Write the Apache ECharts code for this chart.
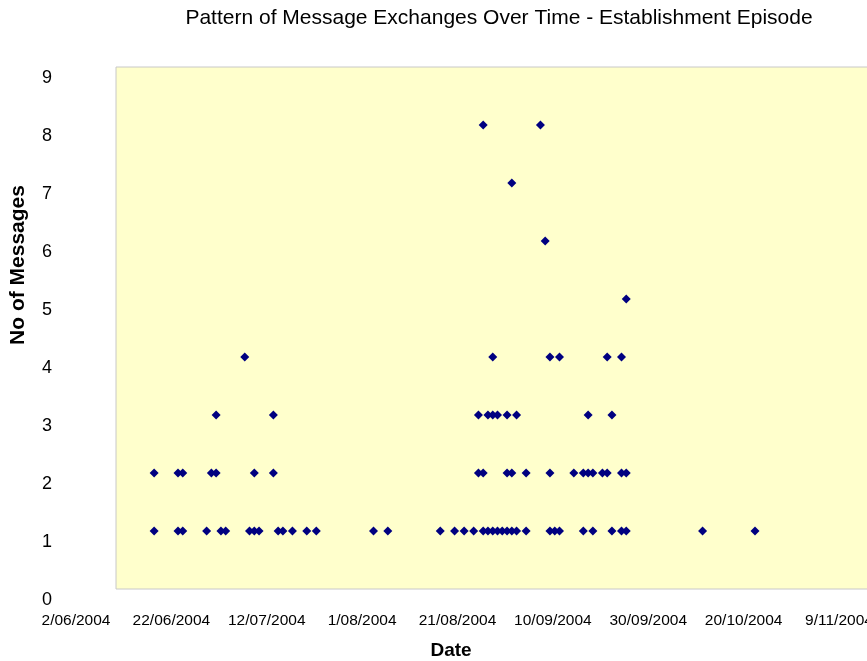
<!DOCTYPE html>
<html><head><meta charset="utf-8">
<script src="https://cdn.jsdelivr.net/npm/echarts@6/dist/echarts.min.js"></script>
<style>html,body{margin:0;padding:0;background:#fff}#c{width:867px;height:661px}</style>
</head><body><div id="c"></div>
<script>
const chartTitle = 'Pattern of Message Exchanges Over Time - Establishment Episode';
const xTitle = 'Date';
const yTitle = 'No of Messages';
const axisStart = '2004-06-02';
const axisEnd = '2004-11-09';
const tickStepDays = 20;
const yMax = 9;

const dates = [
  '2004-06-10','2004-06-15','2004-06-16','2004-06-21','2004-06-24','2004-06-25','2004-06-30','2004-07-01','2004-07-02','2004-07-06',
  '2004-07-07','2004-07-09','2004-07-12','2004-07-14','2004-07-26','2004-07-29','2004-08-09','2004-08-12','2004-08-14','2004-08-16',
  '2004-08-18','2004-08-19','2004-08-20','2004-08-21','2004-08-22','2004-08-23','2004-08-24','2004-08-25','2004-08-27','2004-09-01',
  '2004-09-02','2004-09-03','2004-09-08','2004-09-10','2004-09-14','2004-09-16','2004-09-17','2004-10-03','2004-10-14',
  '2004-06-10','2004-06-15','2004-06-16','2004-06-22','2004-06-23','2004-07-01','2004-07-05','2004-08-17','2004-08-18','2004-08-23',
  '2004-08-24','2004-08-27','2004-09-01','2004-09-06','2004-09-08','2004-09-09','2004-09-10','2004-09-12','2004-09-13','2004-09-16','2004-09-17',
  '2004-06-23','2004-07-05','2004-08-17','2004-08-19','2004-08-20','2004-08-21','2004-08-23','2004-08-25','2004-09-09','2004-09-14',
  '2004-06-29','2004-08-20','2004-09-01','2004-09-03','2004-09-13','2004-09-16',
  '2004-09-17',
  '2004-08-31',
  '2004-08-24',
  '2004-08-18','2004-08-30'
];
const messages = [
  1,1,1,1,1,1,1,1,1,1,
  1,1,1,1,1,1,1,1,1,1,
  1,1,1,1,1,1,1,1,1,1,
  1,1,1,1,1,1,1,1,1,
  2,2,2,2,2,2,2,2,2,2,
  2,2,2,2,2,2,2,2,2,2,2,
  3,3,3,3,3,3,3,3,3,3,
  4,4,4,4,4,4,
  5,
  6,
  7,
  8,8
];

const DAY = 86400000;
const t0 = Date.parse(axisStart + 'T00:00:00Z');
const dayOf = s => Math.round((Date.parse(s + 'T00:00:00Z') - t0) / DAY);
const fmt = d => { const dt = new Date(t0 + d * DAY); return dt.getUTCDate() + '/' + String(dt.getUTCMonth() + 1).padStart(2, '0') + '/' + dt.getUTCFullYear(); };
const points = dates.map((s, i) => [dayOf(s), messages[i]]);

const chart = echarts.init(document.getElementById('c'), null, {renderer: 'canvas'});
chart.setOption({
  animation: false,
  backgroundColor: '#ffffff',
  grid: {left: 116, top: 67, width: 763, height: 522, outerBoundsMode: 'none', containLabel: false,
         show: true, backgroundColor: '#FFFFCC', borderColor: '#C8C8C8', borderWidth: 1},
  xAxis: {
    type: 'value', min: 0, max: dayOf(axisEnd), interval: tickStepDays,
    axisLine: {show: false}, axisTick: {show: false}, splitLine: {show: false},
    axisLabel: {formatter: v => fmt(v), color: '#000', fontFamily: 'Liberation Sans, Arial', fontSize: 15.5, margin: 24, padding: [0, 80, 0, 0], showMaxLabel: true, showMinLabel: true, hideOverlap: false}
  },
  yAxis: {
    type: 'value', min: 0, max: yMax, interval: 1,
    axisLine: {show: false}, axisTick: {show: false}, splitLine: {show: false},
    axisLabel: {color: '#000', fontFamily: 'Liberation Sans, Arial', fontSize: 18, margin: 64, verticalAlign: 'top', lineHeight: 22}
  },
  graphic: [
    {type: 'text', x: 499, y: 18, style: {text: chartTitle, fontFamily: 'Liberation Sans, Arial', fontSize: 21, fill: '#000', align: 'center', verticalAlign: 'middle'}},
    {type: 'text', x: 451, y: 651, style: {text: xTitle, fontFamily: 'Liberation Sans, Arial', fontSize: 19, fontWeight: 'bold', fill: '#000', align: 'center', verticalAlign: 'middle'}},
    {type: 'text', x: 18, y: 265, rotation: Math.PI / 2, style: {text: yTitle, fontFamily: 'Liberation Sans, Arial', fontSize: 21, fontWeight: 'bold', fill: '#000', align: 'center', verticalAlign: 'middle'}}
  ],
  series: [{
    type: 'scatter', data: points, symbol: 'diamond', symbolSize: 9,
    itemStyle: {color: '#000080', opacity: 1}
  }]
});
</script></body></html>
